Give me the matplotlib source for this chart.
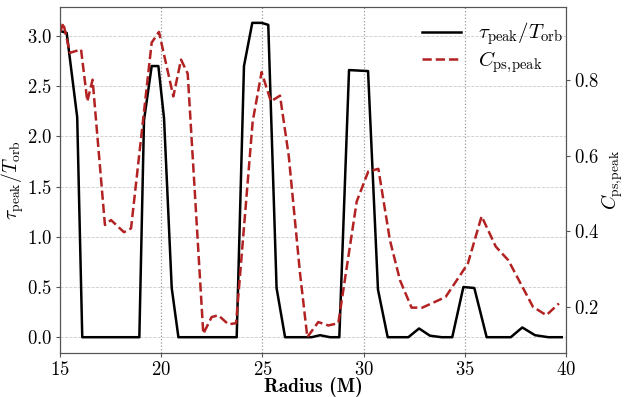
import matplotlib
matplotlib.use('Agg')
import matplotlib.pyplot as plt

plt.rcParams['font.family'] = 'serif'
plt.rcParams['font.serif'] = ['cmr10']
plt.rcParams['mathtext.fontset'] = 'cm'
plt.rcParams['axes.formatter.use_mathtext'] = True

# tau_peak / T_orb (black)
r_tau = [15.0, 15.33, 15.85, 16.10, 18.92, 19.15, 19.53, 19.86, 20.14, 20.52,
         20.85, 23.73, 24.09, 24.50, 24.96, 25.29, 25.70, 26.12, 27.43, 27.85,
         28.34, 28.80, 29.28, 30.22, 30.71, 31.19, 32.21, 32.74, 33.28, 33.86,
         34.38, 34.93, 35.47, 36.08, 37.27, 37.84, 38.47, 39.13, 39.79]
tau = [3.05, 3.03, 2.19, 0.0, 0.0, 2.16, 2.70, 2.70, 2.18, 0.49,
       0.0, 0.0, 2.70, 3.13, 3.13, 3.11, 0.49, 0.0, 0.0, 0.02,
       0.0, 0.0, 2.66, 2.65, 0.475, 0.0, 0.0, 0.087, 0.015, 0.0,
       0.0, 0.50, 0.49, 0.0, 0.0, 0.097, 0.02, 0.0, 0.0]

# C_ps,peak (red dashed, right axis)
r_c = [15.0, 15.16, 15.49, 16.04, 16.35, 16.61, 17.22, 17.52, 18.16, 18.51,
       19.53, 19.89, 20.60, 20.98, 21.31, 22.08, 22.49, 22.82, 23.32, 23.70,
       24.52, 24.96, 25.42, 25.87, 26.30, 26.86, 27.22, 27.76, 28.26, 28.75,
       29.66, 30.23, 30.73, 31.30, 31.80, 32.37, 32.90, 34.05, 35.15, 35.83,
       36.53, 37.15, 38.37, 39.03, 39.65]
c_ps = [0.924, 0.950, 0.871, 0.880, 0.743, 0.800, 0.417, 0.430, 0.398, 0.408,
        0.898, 0.926, 0.756, 0.853, 0.816, 0.130, 0.174, 0.179, 0.155, 0.158,
        0.690, 0.820, 0.743, 0.758, 0.600, 0.289, 0.121, 0.161, 0.152, 0.158,
        0.479, 0.558, 0.565, 0.377, 0.271, 0.199, 0.199, 0.227, 0.315, 0.440,
        0.360, 0.324, 0.201, 0.179, 0.210]

fig = plt.figure(figsize=(6.25, 3.97), dpi=100)
ax = fig.add_axes([0.096, 0.111, 0.8096, 0.871])
ax2 = ax.twinx()

c_label = r'$C_{\rm ps,\!peak}$'
l1, = ax.plot(r_tau, tau, color='black', lw=1.8, label=r'$\tau_{\rm peak}/T_{\rm orb}$')
l2, = ax2.plot(r_c, c_ps, color='#b22222', lw=1.8, ls='--', label=c_label)

ax.set_xlim(15, 40)
ax.set_xticks([15, 20, 25, 30, 35, 40])
ax.set_yticks([0.0, 0.5, 1.0, 1.5, 2.0, 2.5, 3.0])
ax2.set_yticks([0.2, 0.4, 0.6, 0.8])

ax.grid(True, ls='--', lw=0.6, color='#cccccc')
ax.grid(True, axis='x', ls=':', lw=0.9, color='#999999')

ax.set_xlabel('Radius (M)', family='cmb10', fontsize=14, labelpad=-1)
ax.set_ylabel(r'$\tau_{\rm peak}/T_{\rm orb}$', fontsize=14, labelpad=1)
ax2.set_ylabel(c_label, fontsize=14, labelpad=0)

for a in (ax, ax2):
    a.tick_params(labelsize=13.5, color='#555555', length=3, pad=2.5)
    for s in a.spines.values():
        s.set_color('#555555')

ax.legend(handles=[l1, l2], loc='upper right', bbox_to_anchor=(1.01, 0.985),
          frameon=False, fontsize=15, handlelength=1.85, labelspacing=0.1,
          borderaxespad=0)

fig.savefig('out.png', dpi=100)
